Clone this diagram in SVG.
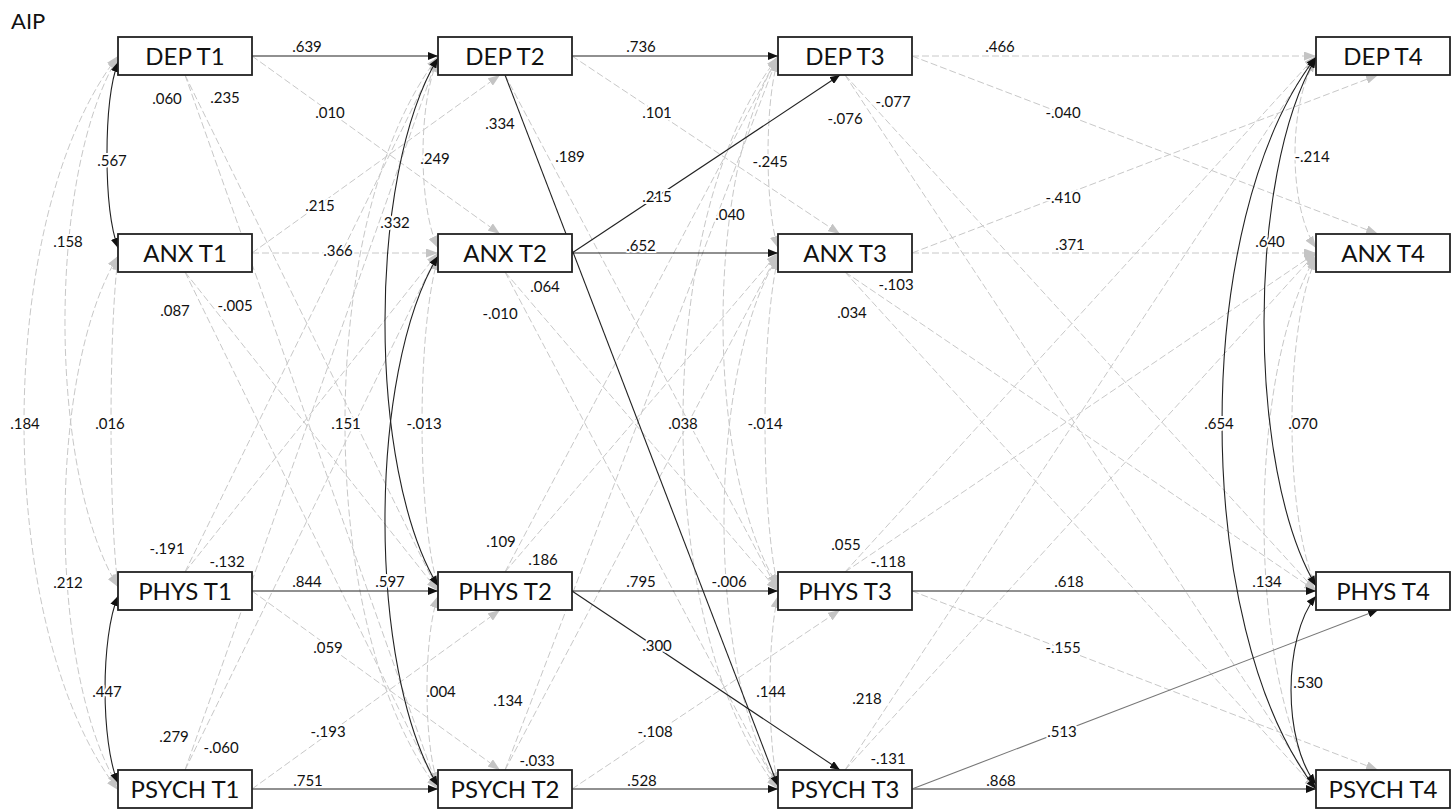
<svg xmlns="http://www.w3.org/2000/svg" width="1456" height="809" viewBox="0 0 1456 809">
<style>
.d{fill:none;stroke:#c8c8c8;stroke-width:1;stroke-dasharray:7 3;marker-end:url(#ag)}
.s{fill:none;stroke:#222;stroke-width:1.1;marker-end:url(#ab)}
.da{fill:none;stroke:#c8c8c8;stroke-width:1;stroke-dasharray:7 3;marker-start:url(#ag);marker-end:url(#ag)}
.sa{fill:none;stroke:#222;stroke-width:1.1;marker-start:url(#ab);marker-end:url(#ab)}
.box rect{fill:#fff;stroke:#222;stroke-width:1.8}
.box text{font-family:Lato,"Liberation Sans",sans-serif;font-size:24px;fill:#111;text-anchor:middle}
.lb text{font-family:Lato,"Liberation Sans",sans-serif;font-size:15px;fill:#111;text-anchor:middle;stroke:#fff;stroke-width:4;stroke-linejoin:round;paint-order:stroke}
</style>
<defs>
<marker id="ab" viewBox="0 0 10 8" refX="10" refY="4" markerWidth="10" markerHeight="8" markerUnits="userSpaceOnUse" orient="auto-start-reverse"><path d="M0,0 L10,4 L0,8 z" fill="#111"/></marker>
<marker id="ag" viewBox="0 0 12 9" refX="12" refY="4.5" markerWidth="12" markerHeight="9" markerUnits="userSpaceOnUse" orient="auto-start-reverse"><path d="M0,0 L12,4.5 L0,9 z" fill="#c4c4c4"/></marker>
</defs>
<rect width="1456" height="809" fill="#fff"/>
<text x="11" y="29" font-family="Lato,'Liberation Sans',sans-serif" font-size="22" fill="#111">AIP</text>
<g id="connectors">
<path class="d" d="M252,56 L500,234"/>
<path class="d" d="M252,253 L500,75"/>
<path class="d" d="M252,253 L438,253"/>
<path class="d" d="M185,75 L438,591"/>
<path class="d" d="M185,75 L438,789"/>
<path class="d" d="M185,272 L438,591"/>
<path class="d" d="M185,272 L438,789"/>
<path class="d" d="M185,572 L438,56"/>
<path class="d" d="M185,572 L438,253"/>
<path class="d" d="M185,770 L438,56"/>
<path class="d" d="M185,770 L438,253"/>
<path class="d" d="M252,591 L500,770"/>
<path class="d" d="M252,789 L500,610"/>
<path class="d" d="M572,56 L840,234"/>
<path class="d" d="M505,75 L778,591"/>
<path class="d" d="M505,272 L778,591"/>
<path class="d" d="M505,272 L778,789"/>
<path class="d" d="M505,572 L778,56"/>
<path class="d" d="M505,572 L778,253"/>
<path class="d" d="M505,770 L778,56"/>
<path class="d" d="M505,770 L778,253"/>
<path class="d" d="M572,789 L840,610"/>
<path class="d" d="M912,56 L1316,56"/>
<path class="d" d="M912,56 L1378,234"/>
<path class="d" d="M912,253 L1316,253"/>
<path class="d" d="M912,253 L1378,75"/>
<path class="d" d="M845,75 L1316,591"/>
<path class="d" d="M845,75 L1316,789"/>
<path class="d" d="M845,272 L1316,591"/>
<path class="d" d="M845,272 L1316,789"/>
<path class="d" d="M845,572 L1316,56"/>
<path class="d" d="M845,572 L1316,253"/>
<path class="d" d="M845,770 L1316,56"/>
<path class="d" d="M845,770 L1316,253"/>
<path class="d" d="M912,591 L1378,770"/>
<path class="da" d="M118,57 C47.3,173.6 47.3,470.4 118,587"/>
<path class="da" d="M118,56 C-7.3,217.3 -7.3,627.7 118,790"/>
<path class="da" d="M118,258 C108.7,330.2 108.7,513.8 118,586"/>
<path class="da" d="M118,256 C47.3,372.6 47.3,669.4 118,786"/>
<path class="da" d="M438,60 C418,101.4 418,206.6 438,248"/>
<path class="da" d="M438,57 C314,218 314,628 438,789"/>
<path class="da" d="M438,258 C416.7,330.4 416.7,514.6 438,587"/>
<path class="da" d="M438,596 C423.3,637.4 423.3,742.6 438,784"/>
<path class="da" d="M778,60 C764.7,101.4 764.7,206.6 778,248"/>
<path class="da" d="M778,58 C704.7,174.2 704.7,469.8 778,586"/>
<path class="da" d="M778,57 C651.3,218 651.3,628 778,789"/>
<path class="da" d="M778,258 C760.7,330.4 760.7,514.6 778,587"/>
<path class="da" d="M778,256 C706,372.6 706,669.4 778,786"/>
<path class="da" d="M778,596 C767.3,637.4 767.3,742.6 778,784"/>
<path class="da" d="M1316,60 C1288,101.4 1288,206.6 1316,248"/>
<path class="da" d="M1316,258 C1284,330.4 1284,514.6 1316,587"/>
<path class="da" d="M1316,256 C1246.7,372.6 1246.7,669.4 1316,786"/>
<path class="s" d="M252,56 L438,56"/>
<path class="s" d="M252,591 L438,591"/>
<path class="s" d="M252,789 L438,789"/>
<path class="s" d="M572,56 L778,56"/>
<path class="s" d="M572,253 L778,253"/>
<path class="s" d="M572,591 L778,591"/>
<path class="s" d="M572,789 L778,789"/>
<path class="s" d="M505,75 L778,786"/>
<path class="s" d="M572,253 L840,75"/>
<path class="s" d="M572,591 L840,770"/>
<path class="s" d="M912,591 L1316,591"/>
<path class="s" d="M912,789 L1316,789"/>
<path class="s" style="stroke:#777" d="M912,789 L1378,610"/>
<path class="sa" d="M118,62 C103.3,102.9 103.3,207.1 118,248"/>
<path class="sa" d="M118,596 C100.7,637.1 100.7,741.9 118,783"/>
<path class="sa" d="M438,58 C367.3,174.2 367.3,469.8 438,586"/>
<path class="sa" d="M438,256 C367.3,372.6 367.3,669.4 438,786"/>
<path class="sa" d="M1316,58 C1246.7,174.2 1246.7,469.8 1316,586"/>
<path class="sa" d="M1316,57 C1190.7,218 1190.7,628 1316,789"/>
<path class="sa" d="M1316,596 C1282.7,637.4 1282.7,742.6 1316,784"/>
</g>
<g id="dep-t1" class="box"><rect x="118" y="37" width="134" height="38"/><text x="185" y="65">DEP T1</text></g>
<g id="anx-t1" class="box"><rect x="118" y="234" width="134" height="38"/><text x="185" y="262">ANX T1</text></g>
<g id="phys-t1" class="box"><rect x="118" y="572" width="134" height="38"/><text x="185" y="600">PHYS T1</text></g>
<g id="psych-t1" class="box"><rect x="118" y="770" width="134" height="38"/><text x="185" y="798">PSYCH T1</text></g>
<g id="dep-t2" class="box"><rect x="438" y="37" width="134" height="38"/><text x="505" y="65">DEP T2</text></g>
<g id="anx-t2" class="box"><rect x="438" y="234" width="134" height="38"/><text x="505" y="262">ANX T2</text></g>
<g id="phys-t2" class="box"><rect x="438" y="572" width="134" height="38"/><text x="505" y="600">PHYS T2</text></g>
<g id="psych-t2" class="box"><rect x="438" y="770" width="134" height="38"/><text x="505" y="798">PSYCH T2</text></g>
<g id="dep-t3" class="box"><rect x="778" y="37" width="134" height="38"/><text x="845" y="65">DEP T3</text></g>
<g id="anx-t3" class="box"><rect x="778" y="234" width="134" height="38"/><text x="845" y="262">ANX T3</text></g>
<g id="phys-t3" class="box"><rect x="778" y="572" width="134" height="38"/><text x="845" y="600">PHYS T3</text></g>
<g id="psych-t3" class="box"><rect x="778" y="770" width="134" height="38"/><text x="845" y="798">PSYCH T3</text></g>
<g id="dep-t4" class="box"><rect x="1316" y="37" width="134" height="38"/><text x="1383" y="65">DEP T4</text></g>
<g id="anx-t4" class="box"><rect x="1316" y="234" width="134" height="38"/><text x="1383" y="262">ANX T4</text></g>
<g id="phys-t4" class="box"><rect x="1316" y="572" width="134" height="38"/><text x="1383" y="600">PHYS T4</text></g>
<g id="psych-t4" class="box"><rect x="1316" y="770" width="134" height="38"/><text x="1383" y="798">PSYCH T4</text></g>
<g id="labels" class="lb">
<text x="307" y="52">.639</text>
<text x="167" y="104">.060</text>
<text x="225" y="103">.235</text>
<text x="330" y="118">.010</text>
<text x="112" y="166">.567</text>
<text x="320" y="211">.215</text>
<text x="395" y="228">.332</text>
<text x="68" y="247">.158</text>
<text x="338" y="256">.366</text>
<text x="435" y="164">.249</text>
<text x="175" y="316">.087</text>
<text x="235" y="311">-.005</text>
<text x="25" y="429">.184</text>
<text x="110" y="429">.016</text>
<text x="346" y="429">.151</text>
<text x="424" y="429">-.013</text>
<text x="167" y="554">-.191</text>
<text x="227" y="567">-.132</text>
<text x="68" y="588">.212</text>
<text x="307" y="587">.844</text>
<text x="390" y="587">.597</text>
<text x="328" y="653">.059</text>
<text x="107" y="697">.447</text>
<text x="441" y="697">.004</text>
<text x="328" y="737">-.193</text>
<text x="174" y="742">.279</text>
<text x="221" y="753">-.060</text>
<text x="308" y="786">.751</text>
<text x="641" y="52">.736</text>
<text x="500" y="129">.334</text>
<text x="657" y="118">.101</text>
<text x="570" y="162">.189</text>
<text x="770" y="167">-.245</text>
<text x="657" y="202">.215</text>
<text x="730" y="220">.040</text>
<text x="641" y="251">.652</text>
<text x="893" y="107">-.077</text>
<text x="845" y="124">-.076</text>
<text x="545" y="292">.064</text>
<text x="500" y="319">-.010</text>
<text x="896" y="290">-.103</text>
<text x="852" y="318">.034</text>
<text x="683" y="429">.038</text>
<text x="765" y="429">-.014</text>
<text x="501" y="547">.109</text>
<text x="846" y="550">.055</text>
<text x="543" y="565">.186</text>
<text x="641" y="587">.795</text>
<text x="729" y="587">-.006</text>
<text x="888" y="567">-.118</text>
<text x="657" y="651">.300</text>
<text x="771" y="697">.144</text>
<text x="508" y="706">.134</text>
<text x="867" y="704">.218</text>
<text x="655" y="737">-.108</text>
<text x="537" y="766">-.033</text>
<text x="888" y="764">-.131</text>
<text x="642" y="786">.528</text>
<text x="1000" y="52">.466</text>
<text x="1063" y="118">-.040</text>
<text x="1312" y="162">-.214</text>
<text x="1063" y="203">-.410</text>
<text x="1070" y="250">.371</text>
<text x="1270" y="247">.640</text>
<text x="1219" y="429">.654</text>
<text x="1303" y="429">.070</text>
<text x="1069" y="587">.618</text>
<text x="1267" y="587">.134</text>
<text x="1063" y="653">-.155</text>
<text x="1308" y="688">.530</text>
<text x="1062" y="737">.513</text>
<text x="1001" y="786">.868</text>
</g>
</svg>
